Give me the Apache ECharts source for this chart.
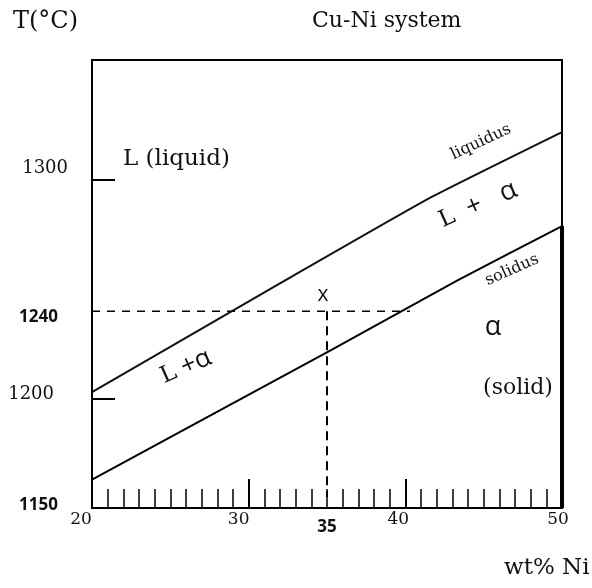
<!DOCTYPE html>
<html>
<head>
<meta charset="utf-8">
<script src="https://cdn.jsdelivr.net/npm/echarts@6/dist/echarts.min.js"></script>
<style>html,body{margin:0;padding:0;background:#fff;}#c{width:592px;height:588px;}</style>
</head>
<body>
<div id="c"></div>
<script>
// ---- data ----
const liquidusNi = [20, 32.3, 41.6, 50];
const liquidusT  = [1203, 1254, 1292, 1322];
const solidusNi  = [20, 35.2, 43.3, 50];
const solidusT   = [1163, 1222, 1254, 1279];
const tieT = 1240;          // dashed horizontal temperature
const tieEndNi = 40.3;      // where the dashed line meets the solidus
const alloyNi = 35;         // dashed vertical composition
const alloyBottomT = 1155;  // lower end of dashed vertical
const xLabelValues = [20, 30, 35, 40, 50];
const yLabelValues = [1150, 1200, 1240, 1300];
const yMarkValues = [1200, 1300];

const zip = (a, b) => a.map((v, i) => [v, b[i]]);
const serif = 'DejaVu Serif';
const sans = 'Open Sans';

const chart = echarts.init(document.getElementById('c'), null, {renderer: 'canvas'});
chart.setOption({
  animation: false,
  backgroundColor: '#fff',
  grid: {left: 92, right: 30, top: 60, bottom: 80, show: true, borderColor: '#000', borderWidth: 2, backgroundColor: 'transparent'},
  xAxis: {
    type: 'value', min: 20, max: 50, interval: 10,
    splitLine: {show: false},
    axisLine: {lineStyle: {color: '#000', width: 2}},
    axisTick: {inside: true, length: 29, lineStyle: {color: '#000', width: 2}},
    minorTick: {show: true, splitNumber: 10, length: 19, lineStyle: {color: '#000', width: 1.5}},
    axisLabel: {
      customValues: xLabelValues, margin: 3, color: '#000',
      formatter: v => {
        const k = v === 35 ? 'b' : ('x' + v);
        return '{' + k + '|' + v + '}';
      },
      rich: {
        x20: {fontFamily: serif, fontSize: 17, color: '#111', padding: [0, 22, 0, 0]},
        x30: {fontFamily: serif, fontSize: 17, color: '#111', padding: [0, 20, 0, 0]},
        x40: {fontFamily: serif, fontSize: 17, color: '#111', padding: [0, 14, 0, 0]},
        x50: {fontFamily: serif, fontSize: 17, color: '#111', padding: [0, 8, 0, 0]},
        b: {fontFamily: sans, fontWeight: 'bold', fontSize: 17, color: '#111', padding: [8, 0, 0, 0]}
      }
    }
  },
  yAxis: {
    type: 'value', min: 1150, max: 1355,
    splitLine: {show: false},
    axisLine: {lineStyle: {color: '#000', width: 2}},
    axisTick: {customValues: yMarkValues, inside: true, length: 23, lineStyle: {color: '#000', width: 2}},
    axisLabel: {
      customValues: yLabelValues, margin: 24, color: '#000',
      formatter: v => '{y' + v + '|' + v + '}',
      rich: {
        y1300: {fontFamily: serif, fontSize: 18, color: '#111', padding: [0, 0, 24, 0]},
        y1240: {fontFamily: sans, fontWeight: 'bold', fontSize: 17, color: '#111', padding: [12, 10, 0, 0]},
        y1200: {fontFamily: serif, fontSize: 18, color: '#111', padding: [0, 14, 8, 0]},
        y1150: {fontFamily: sans, fontWeight: 'bold', fontSize: 17, color: '#111', padding: [0, 10, 6, 0]}
      }
    }
  },
  series: [
    {type: 'line', name: 'liquidus', data: zip(liquidusNi, liquidusT), smooth: 0.15, symbol: 'none',
      lineStyle: {color: '#111', width: 2}},
    {type: 'line', name: 'solidus', data: zip(solidusNi, solidusT), smooth: 0.15, symbol: 'none',
      lineStyle: {color: '#000', width: 2}},
    {type: 'line', name: 'tie', data: [[20, tieT], [tieEndNi, tieT]], symbol: 'none',
      lineStyle: {color: '#000', width: 1.6, type: [8, 7]}},
    {type: 'line', name: 'alloy', data: [[alloyNi, tieT], [alloyNi, alloyBottomT]], symbol: 'none',
      lineStyle: {color: '#000', width: 2, type: [9, 6]}},
    {type: 'line', name: 'edge', data: [[50, 1150], [50, solidusT[solidusT.length - 1]]], symbol: 'none',
      lineStyle: {color: '#000', width: 4}}
  ],
  graphic: [
    {type: 'text', left: 13, top: 10, style: {text: 'T(°C)', font: '24px "DejaVu Serif"', fill: '#111'}},
    {type: 'text', left: 312, top: 10, style: {text: 'Cu-Ni system', font: '22px "DejaVu Serif"', fill: '#111'}},
    {type: 'text', left: 504, top: 557, style: {text: 'wt% Ni', font: '23px "DejaVu Serif"', fill: '#111'}},
    {type: 'text', left: 123, top: 148, style: {text: 'L (liquid)', font: '23px "DejaVu Serif"', fill: '#111'}},
    {type: 'text', x: 481, y: 142, rotation: 25 * Math.PI / 180,
      style: {text: 'liquidus', font: '16px "DejaVu Serif"', fill: '#111', align: 'center', verticalAlign: 'middle'}},
    {type: 'text', x: 512, y: 270, rotation: 24 * Math.PI / 180,
      style: {text: 'solidus', font: '16px "DejaVu Serif"', fill: '#111', align: 'center', verticalAlign: 'middle'}},
    {type: 'text', x: 478, y: 205, rotation: 24 * Math.PI / 180,
      style: {text: '{s|L}{n|  +   α}', align: 'center', verticalAlign: 'middle',
        rich: {s: {fontFamily: serif, fontSize: 23, fill: '#111'}, n: {fontFamily: sans, fontSize: 27, fill: '#111'}}}},
    {type: 'text', x: 186, y: 367, rotation: 24 * Math.PI / 180,
      style: {text: '{s|L}{n| +α}', align: 'center', verticalAlign: 'middle',
        rich: {s: {fontFamily: serif, fontSize: 23, fill: '#111'}, n: {fontFamily: sans, fontSize: 26, fill: '#111'}}}},
    {type: 'text', x: 493, y: 327, style: {text: 'α', font: '27px "Open Sans"', fill: '#111', align: 'center', verticalAlign: 'middle'}},
    {type: 'text', x: 518, y: 388, style: {text: '(solid)', font: '22px "DejaVu Serif"', fill: '#111', align: 'center', verticalAlign: 'middle'}},
    {type: 'text', x: 323, y: 295, style: {text: 'x', font: '21px "Open Sans"', fill: '#111', align: 'center', verticalAlign: 'middle'}}
  ]
});
</script>
</body>
</html>
